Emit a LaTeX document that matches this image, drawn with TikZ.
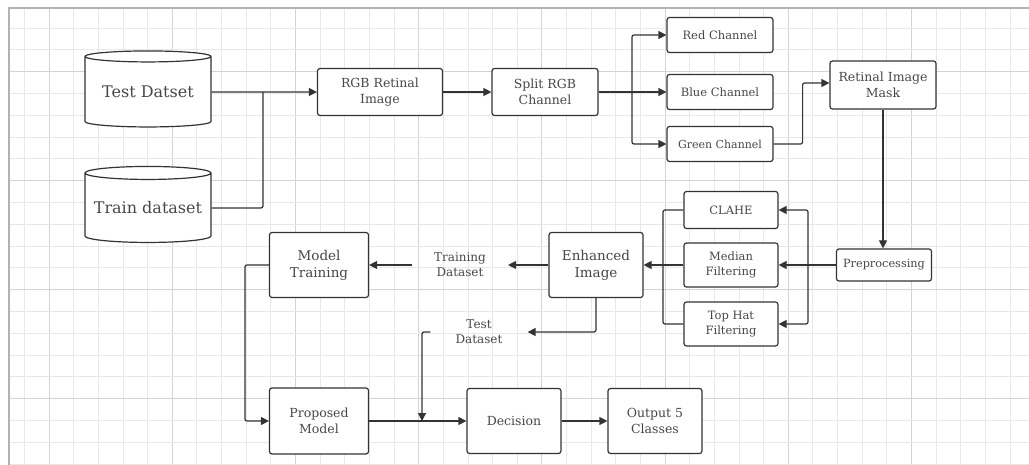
\documentclass[tikz,border=0pt]{standalone}
\usepackage{fontspec}
\setmainfont{DejaVu Serif}
\usetikzlibrary{arrows.meta,shapes.geometric,positioning}

\tikzset{
  gridminor/.style={draw=black!9, line width=0.7pt},
  gridmajor/.style={draw=black!17, line width=0.9pt},
  block/.style={draw=black!80, line width=1.2pt, rounded corners=2.5pt, fill=white,
    align=center, text=black!72, inner sep=0pt, font=\fontsize{12.5}{16}\selectfont},
  chan/.style={minimum width=106pt, minimum height=35pt, font=\fontsize{11.5}{14}\selectfont},
  filt/.style={minimum width=94pt, minimum height=44pt, font=\fontsize{11.5}{15}\selectfont},
  db/.style={cylinder, shape border rotate=90, shape aspect=0.12, draw=black!80,
    line width=1.2pt, fill=white, text=black!72, inner sep=0pt,
    font=\fontsize{16}{18}\selectfont},
  lbl/.style={align=center, text=black!72, inner ysep=0pt, font=\fontsize{12}{15}\selectfont},
  link/.style={draw=black!80, line width=1.2pt, rounded corners=2pt},
  flow/.style={link, ->},
}

\begin{document}
\begin{tikzpicture}[x=1pt, y=-1pt, >={Triangle[length=8pt,width=8pt]}, line join=round]
  \useasboundingbox (0,0) rectangle (1029,465);
  \fill[white] (0,0) rectangle (1029,465);
  % grid paper
  \foreach \i in {-1,...,39}{
    \pgfmathsetmacro\gx{49+24.64*\i}
    \pgfmathtruncatemacro\gm{mod(\i+5,5)}
    \ifnum\gm=0 \draw[gridmajor] (\gx,8) -- (\gx,465);
    \else \draw[gridminor] (\gx,8) -- (\gx,465); \fi
  }
  \foreach \j in {0,...,20}{
    \pgfmathsetmacro\gy{28+21.8*\j}
    \pgfmathtruncatemacro\gm{mod(\j,5)}
    \ifnum\gm=2 \draw[gridmajor] (9,\gy) -- (1029,\gy);
    \else \draw[gridminor] (9,\gy) -- (1029,\gy); \fi
  }
  \draw[black!30, line width=1.6pt] (9,465) -- (9,8) -- (1029,8);

  % data sources
  \node[db, minimum width=126pt, minimum height=76pt] (testdb)  at (148,92)  {Test Datset};
  \node[db, minimum width=126pt, minimum height=76pt] (traindb) at (148,208) {Train dataset};

  % top row
  \node[block, minimum width=125pt, minimum height=47pt] (rgb)   at (380,92) {RGB Retinal\\Image};
  \node[block, minimum width=106pt, minimum height=47pt] (split) at (545,92) {Split RGB\\Channel};
  \node[block, chan] (red)   at (720,35)  {Red Channel};
  \node[block, chan] (blue)  at (720,92)  {Blue Channel};
  \node[block, chan, font=\fontsize{11}{13}\selectfont] (green) at (720,144) {Green Channel};
  \node[block, minimum width=106pt, minimum height=48pt] (mask)  at (883,85) {Retinal Image\\Mask};

  % enhancement
  \node[block, minimum width=95pt, minimum height=32pt, font=\fontsize{11.3}{14}\selectfont]
    (prep) at (884,265) {Preprocessing};
  \node[block, filt, minimum height=37pt] (clahe)  at (731,210) {CLAHE};
  \node[block, filt]                      (median) at (731,265) {Median\\Filtering};
  \node[block, filt]                      (tophat) at (731,324) {Top Hat\\Filtering};
  \node[block, minimum width=94pt, minimum height=65pt, font=\fontsize{13.5}{17}\selectfont]
    (enh) at (596,265) {Enhanced\\Image};

  % split of the data
  \node[lbl, inner xsep=22pt] (trainset) at (460,265) {Training\\Dataset};
  \node[lbl, inner xsep=25pt] (testset)  at (479,332) {Test\\Dataset};

  % model
  \node[block, minimum width=99pt, minimum height=65pt, font=\fontsize{13.5}{17}\selectfont]
    (train) at (319,265) {Model\\Training};
  \node[block, minimum width=99pt, minimum height=66pt] (model)    at (319,421) {Proposed\\Model};
  \node[block, minimum width=94pt, minimum height=65pt] (decision) at (514,421) {Decision};
  \node[block, minimum width=94pt, minimum height=65pt] (output)   at (655,421) {Output 5\\Classes};

  \coordinate (dsjoin)   at (263,92);
  \coordinate (chjoin)   at (632,92);
  \coordinate (prejoin)  at (808,265);
  \coordinate (fjoin)    at (663,265);
  \coordinate (testjoin) at (422,421);

  \draw[flow] (testdb.east) -- (rgb.west);
  \draw[link] (traindb.east) -| (dsjoin);
  \draw[flow] (rgb) -- (split);
  \draw[link] (split.east) -- (chjoin);
  \draw[flow] (chjoin) |- (red.west);
  \draw[flow] (chjoin) -- (blue.west);
  \draw[flow] (chjoin) |- (green.west);
  \draw[flow] (green.east) -- ++(29,0) |- ([yshift=2pt]mask.west);
  \draw[flow] (mask.south) -- (mask.south |- prep.north);
  \draw[link] (prep.west) -- (prejoin);
  \draw[flow] (prejoin) |- (clahe.east);
  \draw[flow] (prejoin) -- (median.east);
  \draw[flow] (prejoin) |- (tophat.east);
  \draw[link] (clahe.west) -| (fjoin);
  \draw[link] (tophat.west) -| (fjoin);
  \draw[flow] (median.west) -- (enh.east);
  \draw[flow] (enh.west) -- (trainset.east);
  \draw[flow] (trainset.west) -- (train.east);
  \draw[flow] (enh.south) |- (testset.east);
  \draw[flow] (testset.west) -| (testjoin);
  \draw[flow] (train.west) -- ++(-24,0) |- (model.west);
  \draw[flow] (model) -- (decision);
  \draw[flow] (decision) -- (output);
\end{tikzpicture}
\end{document}
